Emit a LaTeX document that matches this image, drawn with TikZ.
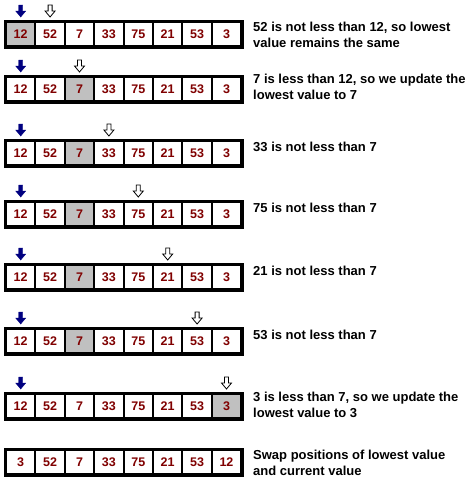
\documentclass[tikz,border=0pt]{standalone}
\usepackage{fontspec}
\setmainfont{Liberation Sans}
\usepackage{xcolor}
\definecolor{numred}{HTML}{800000}
\definecolor{lowgray}{HTML}{C0C0C0}
\definecolor{markblue}{HTML}{000080}

\tikzset{
  pics/curmark/.style={code={
    \draw[markblue, fill=markblue] (-2,-16) -- (2,-16) -- (2,-10) -- (5,-10) -- (0,-4) -- (-5,-10) -- (-2,-10) -- cycle;
  }},
  pics/scanmark/.style={code={
    \draw[black, fill=white, line width=0.8pt] (-2,-16) -- (2,-16) -- (2,-10) -- (5,-10) -- (0,-4) -- (-5,-10) -- (-2,-10) -- cycle;
  }}
}

\begin{document}
\begin{tikzpicture}[
  x=1pt, y=-1pt,
  cell/.style={rectangle, draw=black, line width=2pt, fill=white, minimum width=29.4pt, minimum height=24pt, inner sep=0pt, text=numred, font=\fontsize{12.5}{14}\selectfont\bfseries},
  lowcell/.style={cell, fill=lowgray},
  frame/.style={draw=black, line width=3pt},
  note/.style={anchor=west, align=left, inner sep=0pt, font=\fontsize{13}{15.5}\selectfont\bfseries}
]
\useasboundingbox (0,0) rectangle (475,483);

% one row per step: row / top / scanned cell / lowest cell / values
\foreach \rw/\ytop/\scani/\lowi/\vals in {
  1/22/2/1/{12,52,7,33,75,21,53,3},
  2/77/3/3/{12,52,7,33,75,21,53,3},
  3/141/4/3/{12,52,7,33,75,21,53,3},
  4/202/5/3/{12,52,7,33,75,21,53,3},
  5/265/6/3/{12,52,7,33,75,21,53,3},
  6/329/7/3/{12,52,7,33,75,21,53,3},
  7/394/8/8/{12,52,7,33,75,21,53,3},
  8/450/0/0/{3,52,7,33,75,21,53,12}}{
  \foreach \val [count=\col] in \vals {
    \ifnum\col=\lowi\relax
      \node (r\rw c\col) [lowcell] at ({6+29.4*(\col-0.5)}, {\ytop+12}) {\val};
    \else
      \node (r\rw c\col) [cell] at ({6+29.4*(\col-0.5)}, {\ytop+12}) {\val};
    \fi
  }
  \draw [frame] (r\rw c1.north west) rectangle (r\rw c8.south east);
  \ifnum\scani>0\relax
    \pic at (r\rw c1.north) {curmark};
    \pic at (r\rw c\scani.north) {scanmark};
  \fi
}

% notes
\node (note1) [note] at (253, 35) {52 is not less than 12, so lowest\\value remains the same};
\node (note2) [note] at (253, 87) {7 is less than 12, so we update the\\lowest value to 7};
\node (note3) [note] at (253, 147) {33 is not less than 7};
\node (note4) [note] at (253, 208) {75 is not less than 7};
\node (note5) [note] at (253, 271) {21 is not less than 7};
\node (note6) [note] at (253, 335) {53 is not less than 7};
\node (note7) [note] at (253, 405) {3 is less than 7, so we update the\\lowest value to 3};
\node (note8) [note] at (253, 463) {Swap positions of lowest value\\and current value};
\end{tikzpicture}
\end{document}
